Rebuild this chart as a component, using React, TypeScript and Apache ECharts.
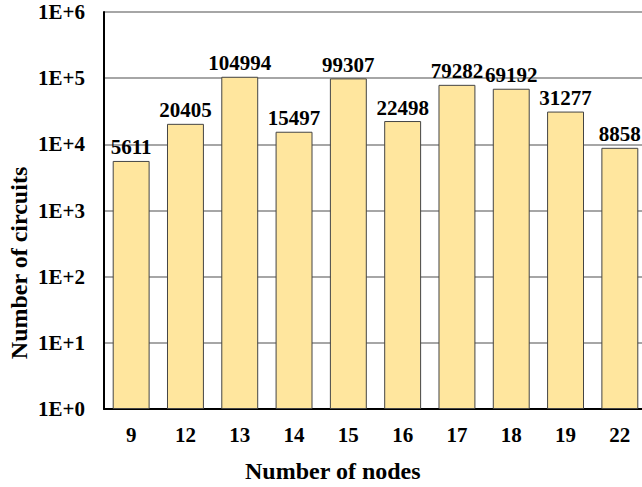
import React, { useEffect, useRef } from "react";
import * as echarts from "echarts";

const categories = ["9", "12", "13", "14", "15", "16", "17", "18", "19", "22"];
const circuits = [5611, 20405, 104994, 15497, 99307, 22498, 79282, 69192, 31277, 8858];
const xName = "Number of nodes";
const yName = "Number of circuits";

const FONT = '"Liberation Serif", "Times New Roman", serif';

export default function App() {
  const ref = useRef<HTMLDivElement>(null);
  useEffect(() => {
    document.body.style.margin = "0";
    document.body.style.overflow = "hidden";
    const chart = echarts.init(ref.current!, undefined, { renderer: "svg" });
    chart.setOption({
      animation: false,
      backgroundColor: "#ffffff",
      grid: { left: 104, right: 0, top: 12, bottom: 78 },
      xAxis: {
        type: "category",
        data: categories,
        axisLine: { lineStyle: { color: "#000", width: 2 } },
        axisTick: { show: false },
        axisLabel: {
          color: "#000",
          fontFamily: FONT,
          fontWeight: "bold",
          fontSize: 21,
          margin: 15,
        },
      },
      yAxis: {
        type: "log",
        logBase: 10,
        min: 1,
        max: 1e6,
        axisLine: { show: true, lineStyle: { color: "#000", width: 2 } },
        axisTick: { show: false },
        splitLine: { show: true, lineStyle: { color: "#888", width: 1.5 } },
        axisLabel: {
          color: "#000",
          fontFamily: FONT,
          fontWeight: "bold",
          fontSize: 21,
          margin: 19,
          formatter: (v: number) => "1E+" + Math.round(Math.log10(v)),
        },
      },
      series: [
        {
          type: "bar",
          data: circuits,
          barCategoryGap: "32%",
          itemStyle: { color: "#FFE69E", borderColor: "#444", borderWidth: 1 },
          label: {
            show: true,
            position: "top",
            distance: 3,
            color: "#000",
            fontFamily: FONT,
            fontWeight: "bold",
            fontSize: 21,
          },
        },
      ],
      graphic: [
        {
          type: "text",
          left: 245,
          top: 459,
          style: {
            text: xName,
            fill: "#000",
            font: `bold 24px ${FONT}`,
          },
        },
        {
          type: "text",
          x: 19,
          y: 263,
          rotation: Math.PI / 2,
          style: {
            text: yName,
            fill: "#000",
            font: `bold 24px ${FONT}`,
            align: "center",
            verticalAlign: "middle",
          },
        },
      ],
    });
    return () => chart.dispose();
  }, []);
  return (
    <div
      ref={ref}
      style={{ position: "fixed", left: 0, top: 0, width: 647, height: 487 }}
    />
  );
}
